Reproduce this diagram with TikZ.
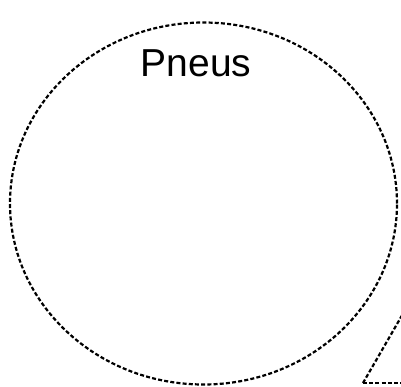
\documentclass[tikz,border=0pt]{standalone}
\usepackage{fontspec}
\setmainfont{Liberation Sans}
\usetikzlibrary{shapes.geometric}
\begin{document}
\begin{tikzpicture}[x=1bp, y=-1bp,
    dots/.style={draw, line width=2.2bp, dash pattern=on 4bp off 2.2bp},
    organ/.style={dots, ellipse, inner sep=0pt, minimum width=387bp, minimum height=362bp},
    organlabel/.style={font=\fontsize{39bp}{42bp}\selectfont, anchor=base}]

  \useasboundingbox (0,0) rectangle (401,387);
  \clip (0,0) rectangle (401,387);

  \node[organ] (pneus) at (203.5,203.5) {};
  \node[organlabel] (label) at (196,76) {Pneus};

  % coin du triangle en bas a droite
  \coordinate (coin) at (363,383);
  \draw[dots] (coin) -- ++(60,-104);
  \draw[dots] (coin) -- ++(60,0);
\end{tikzpicture}
\end{document}
